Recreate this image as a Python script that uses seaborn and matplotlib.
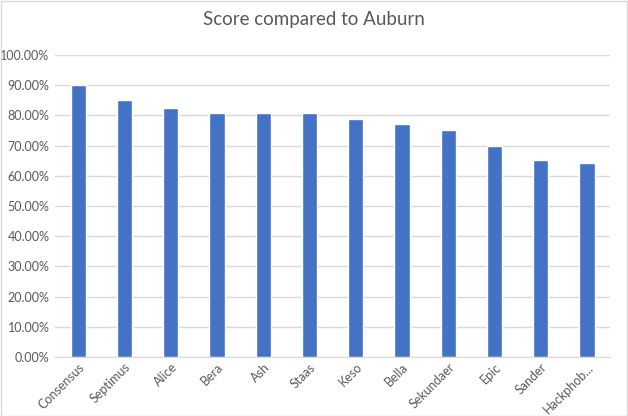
import matplotlib
matplotlib.use("Agg")
import matplotlib.pyplot as plt
from matplotlib.ticker import PercentFormatter
from matplotlib.patches import Rectangle
import seaborn as sns
import pandas as pd

names = ["Consensus", "Septimus", "Alice", "Bera", "Ash", "Staas", "Keso",
         "Bella", "Sekundaer", "Epic", "Sander", "Hackphob..."]
scores = [0.899, 0.851, 0.825, 0.808, 0.808, 0.808, 0.789,
          0.772, 0.753, 0.699, 0.653, 0.643]
y_ticks = [i / 10 for i in range(11)]

df = pd.DataFrame({"name": names, "score": scores})

sns.set_style("white")
plt.rcParams["font.family"] = ["Lato", "DejaVu Sans"]

grey = "#595959"
fig = plt.figure(figsize=(6.28, 4.16), dpi=100)
ax = fig.add_axes([0.0876, 0.142, 0.884, 0.726])

sns.barplot(data=df, x="name", y="score", color="#4472C4", width=0.33,
            saturation=1, ax=ax, zorder=3)

ax.set_ylim(0, 1.0)
ax.set_xlim(-0.5, len(names) - 0.5)
ax.set_yticks(y_ticks)
ax.yaxis.set_major_formatter(PercentFormatter(1.0, decimals=2))
ax.grid(axis="y", color="#d9d9d9", linewidth=1, zorder=0)
for s in ["top", "right", "left"]:
    ax.spines[s].set_visible(False)
ax.spines["bottom"].set_color("#d9d9d9")
ax.spines["bottom"].set_zorder(4)
ax.tick_params(axis="both", length=0, colors=grey, labelsize=9)
ax.tick_params(axis="y", pad=4)
ax.tick_params(axis="x", pad=3)
plt.setp(ax.get_xticklabels(), rotation=45, ha="right", rotation_mode="anchor")
ax.set_xlabel("")
ax.set_ylabel("")

fig.text(0.5, 0.952, "Score compared to Auburn", ha="center", va="center",
         fontsize=13.5, color=grey)

# chart-area border
fig.patches.append(Rectangle((0.001, 0.001), 0.997, 0.997, transform=fig.transFigure,
                             fill=False, edgecolor="#d9d9d9", linewidth=1))

fig.savefig("out.png", dpi=100)
